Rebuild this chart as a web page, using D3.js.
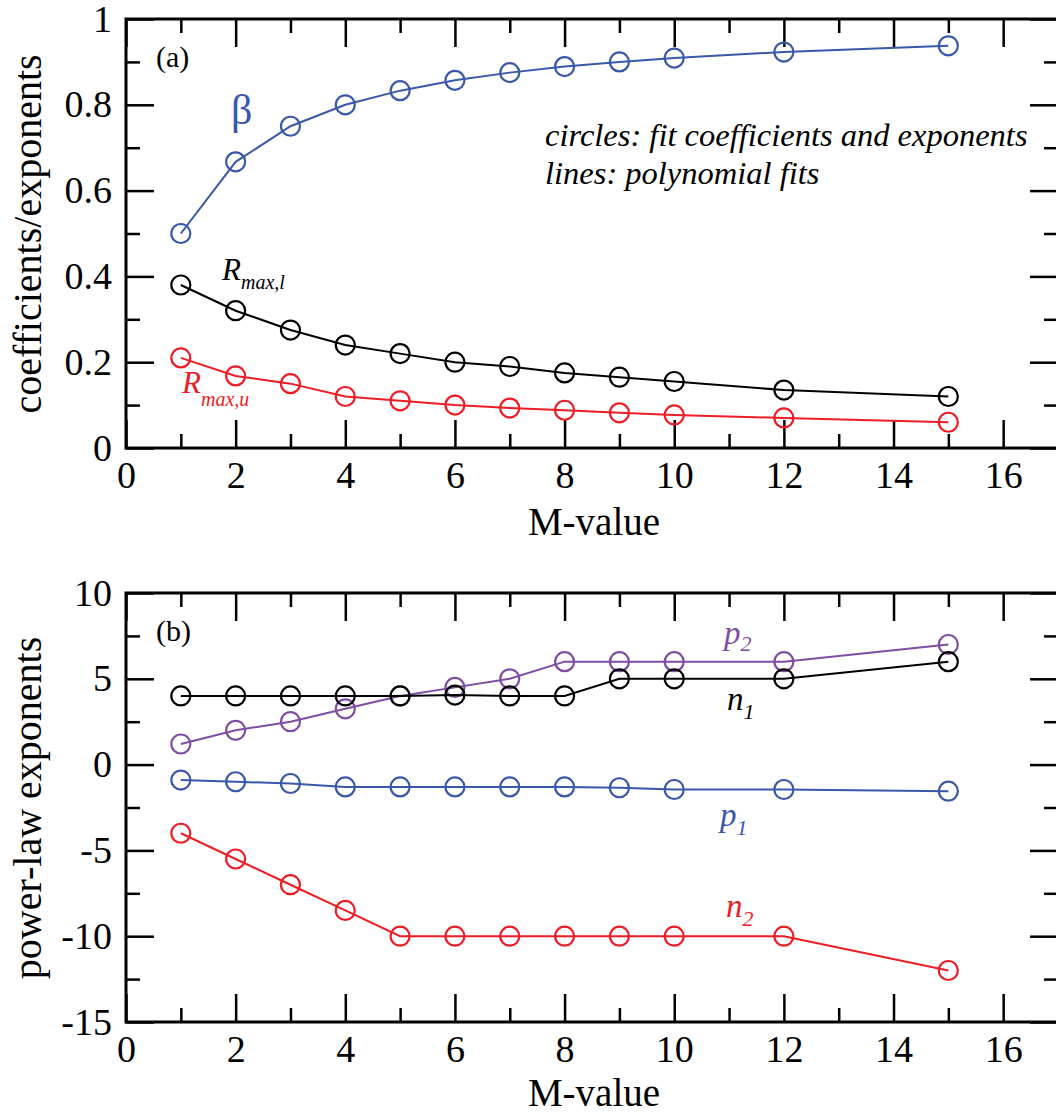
<!DOCTYPE html>
<html>
<head>
<meta charset="utf-8">
<script src="https://cdn.jsdelivr.net/npm/d3@7"></script>
<style>
  body { margin: 0; background: #fff; }
  svg { display: block; }
</style>
</head>
<body>
<div id="chart"></div>
<script>
// M values shared by both panels
var mValues = [1, 2, 3, 4, 5, 6, 7, 8, 9, 10, 12, 15];

// panel (a): fit coefficients / exponents
var beta = [0.5, 0.667, 0.75, 0.8, 0.833, 0.857, 0.875, 0.889, 0.9, 0.909, 0.923, 0.9375];
var rMaxL = [0.38, 0.32, 0.275, 0.24, 0.22, 0.2, 0.19, 0.175, 0.165, 0.155, 0.135, 0.12];
var rMaxU = [0.21, 0.168, 0.15, 0.12, 0.11, 0.1, 0.093, 0.088, 0.082, 0.077, 0.07, 0.06];

// panel (b): power-law exponents
var p2 = [1.2, 2.0, 2.5, 3.25, 4.0, 4.5, 5.0, 6.0, 6.0, 6.0, 6.0, 7.0];
var n1 = [4, 4, 4, 4, 4, 4.05, 4, 4, 5, 5, 5, 6];
var p1 = [-0.9, -1.0, -1.1, -1.3, -1.3, -1.3, -1.3, -1.3, -1.35, -1.45, -1.45, -1.55];
var n2 = [-4, -5.5, -7, -8.5, -10, -10, -10, -10, -10, -10, -10, -12];

// ticks
var xMajor = [0, 2, 4, 6, 8, 10, 12, 14, 16];
var xMinor = [1, 3, 5, 7, 9, 11, 13, 15];
var yMajorA = [0, 0.2, 0.4, 0.6, 0.8, 1];
var yLabelsA = ["0", "0.2", "0.4", "0.6", "0.8", "1"];
var yMinorA = [0.1, 0.3, 0.5, 0.7, 0.9];
var yMajorB = [-15, -10, -5, 0, 5, 10];
var yLabelsB = ["-15", "-10", "-5", "0", "5", "10"];
var yMinorB = [-12.5, -7.5, -2.5, 2.5, 7.5];

var colors = {
    black: "#000000",
    blue: "#3a58aa",
    red: "#ee1c25",
    purple: "#7e4ea2"
};

var serif = "'Liberation Serif', 'Times New Roman', serif";

var svgWidth = 1056;
var svgHeight = 1113;

var svg = d3.select("#chart")
    .append("svg")
    .attr("width", svgWidth)
    .attr("height", svgHeight)
    .attr("font-family", serif);

var xScale = d3.scaleLinear().domain([0, 17]).range([126, 1058]);

var yScaleA = d3.scaleLinear().domain([0, 1]).range([448, 19]);
var yScaleB = d3.scaleLinear().domain([-15, 10]).range([1022, 593]);

var majorLen = 28;
var minorLen = 14;

function drawFrame(yScale, yMajor, yLabels, yMinor) {
    var top = yScale.range()[1];
    var bottom = yScale.range()[0];
    var left = xScale.range()[0];
    var right = xScale.range()[1];
    var g = svg.append("g");

    // bottom axis
    g.append("g")
        .attr("transform", `translate(0, ${bottom})`)
        .call(d3.axisBottom(xScale).tickValues(xMajor).tickSize(-majorLen)
            .tickPadding(13).tickFormat(d => String(d)));
    g.append("g")
        .attr("transform", `translate(0, ${bottom})`)
        .call(d3.axisBottom(xScale).tickValues(xMinor).tickSize(-minorLen).tickFormat(""));
    // top mirror
    g.append("g")
        .attr("transform", `translate(0, ${top})`)
        .call(d3.axisTop(xScale).tickValues(xMajor).tickSize(-majorLen).tickFormat(""));
    g.append("g")
        .attr("transform", `translate(0, ${top})`)
        .call(d3.axisTop(xScale).tickValues(xMinor).tickSize(-minorLen).tickFormat(""));
    // left axis
    g.append("g")
        .attr("transform", `translate(${left}, 0)`)
        .call(d3.axisLeft(yScale).tickValues(yMajor).tickSize(-majorLen)
            .tickPadding(14).tickFormat((d, i) => yLabels[i]));
    g.append("g")
        .attr("transform", `translate(${left}, 0)`)
        .call(d3.axisLeft(yScale).tickValues(yMinor).tickSize(-minorLen).tickFormat(""));
    // right mirror
    g.append("g")
        .attr("transform", `translate(${right}, 0)`)
        .call(d3.axisRight(yScale).tickValues(yMajor).tickSize(-majorLen).tickFormat(""));
    g.append("g")
        .attr("transform", `translate(${right}, 0)`)
        .call(d3.axisRight(yScale).tickValues(yMinor).tickSize(-minorLen).tickFormat(""));

    g.selectAll(".domain").remove();
    g.selectAll("g")
        .attr("font-family", serif)
        .attr("font-size", 38);
    g.selectAll(".tick line").attr("stroke", "#000").attr("stroke-width", 2.5);
    g.selectAll(".tick text").attr("fill", "#000");

    g.append("rect")
        .attr("x", left)
        .attr("y", top)
        .attr("width", right - left)
        .attr("height", bottom - top)
        .attr("fill", "none")
        .attr("stroke", "#000")
        .attr("stroke-width", 3);
    return g;
}

function drawSeries(yScale, values, color) {
    var pts = mValues.map((m, i) => [m, values[i]]);
    var line = d3.line()
        .x(d => xScale(d[0]))
        .y(d => yScale(d[1]));
    svg.append("path")
        .datum(pts)
        .attr("d", line)
        .attr("fill", "none")
        .attr("stroke", color)
        .attr("stroke-width", 2);
    svg.append("g").selectAll("circle")
        .data(pts)
        .enter()
        .append("circle")
        .attr("cx", d => xScale(d[0]))
        .attr("cy", d => yScale(d[1]))
        .attr("r", 9.5)
        .attr("fill", "none")
        .attr("stroke", color)
        .attr("stroke-width", 2.2);
}

// label with italic subscript
function subLabel(x, y, main, sub, color, mainSize, subSize, dy) {
    var t = svg.append("text")
        .attr("x", x)
        .attr("y", y)
        .attr("fill", color)
        .attr("font-style", "italic")
        .attr("font-size", mainSize + "px");
    t.append("tspan").text(main);
    t.append("tspan")
        .attr("font-size", subSize + "px")
        .attr("dy", dy)
        .text(sub);
}

// ---------- panel (a) ----------
drawFrame(yScaleA, yMajorA, yLabelsA, yMinorA);
drawSeries(yScaleA, beta, colors.blue);
drawSeries(yScaleA, rMaxL, colors.black);
drawSeries(yScaleA, rMaxU, colors.red);

svg.append("text")
    .attr("x", 156).attr("y", 67)
    .attr("font-size", "30px")
    .text("(a)");

svg.append("text")
    .attr("x", 231).attr("y", 124)
    .attr("font-size", "42px")
    .attr("fill", colors.blue)
    .text("β");

svg.append("text")
    .attr("x", 545).attr("y", 146)
    .attr("font-size", "32.5px")
    .attr("font-style", "italic")
    .text("circles: fit coefficients and exponents");
svg.append("text")
    .attr("x", 545).attr("y", 184)
    .attr("font-size", "32.5px")
    .attr("font-style", "italic")
    .text("lines: polynomial fits");

subLabel(222, 280, "R", "max,l", colors.black, 31, 20, 9);
subLabel(182, 393, "R", "max,u", colors.red, 31, 20, 13);

svg.append("text")
    .attr("x", 594).attr("y", 535)
    .attr("text-anchor", "middle")
    .attr("font-size", "39px")
    .text("M-value");

svg.append("text")
    .attr("transform", "translate(41, 234) rotate(-90)")
    .attr("text-anchor", "middle")
    .attr("font-size", "40px")
    .text("coefficients/exponents");

// ---------- panel (b) ----------
drawFrame(yScaleB, yMajorB, yLabelsB, yMinorB);
drawSeries(yScaleB, p2, colors.purple);
drawSeries(yScaleB, n1, colors.black);
drawSeries(yScaleB, p1, colors.blue);
drawSeries(yScaleB, n2, colors.red);

svg.append("text")
    .attr("x", 156).attr("y", 641)
    .attr("font-size", "30px")
    .text("(b)");

subLabel(724, 644, "p", "2", colors.purple, 33, 22, 7);
subLabel(727, 710, "n", "1", colors.black, 33, 22, 9);
subLabel(720, 826, "p", "1", colors.blue, 33, 22, 9);
subLabel(726, 917, "n", "2", colors.red, 33, 22, 9);

svg.append("text")
    .attr("x", 594).attr("y", 1106)
    .attr("text-anchor", "middle")
    .attr("font-size", "39px")
    .text("M-value");

svg.append("text")
    .attr("transform", "translate(41, 808) rotate(-90)")
    .attr("text-anchor", "middle")
    .attr("font-size", "40px")
    .text("power-law exponents");
</script>
</body>
</html>
